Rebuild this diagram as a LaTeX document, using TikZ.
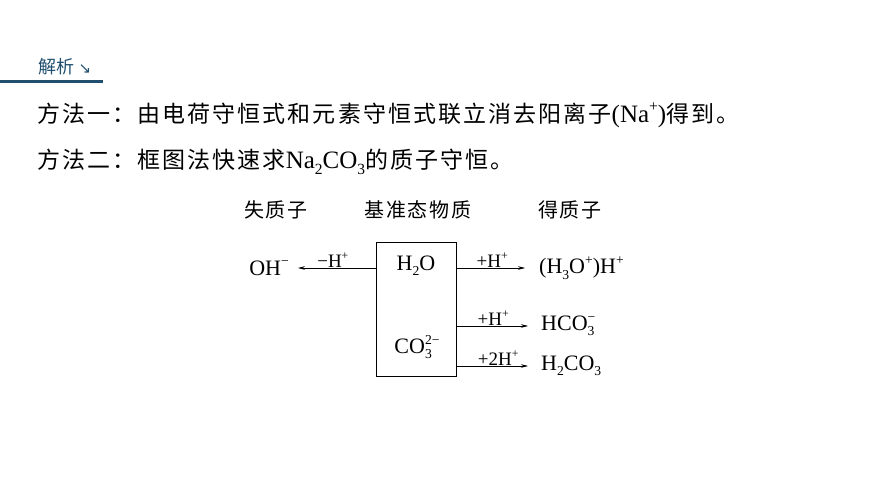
\documentclass[tikz,border=0pt]{standalone}
\usepackage{fontspec}
\setmainfont{Liberation Serif}
\newfontfamily\cjk[LetterSpace=9]{Noto Sans CJK SC}
\newfontfamily\headcjk{Noto Sans CJK SC}
\newfontfamily\symfont{DejaVu Sans}
\usetikzlibrary{arrows.meta,positioning}
\definecolor{headblue}{RGB}{31,78,110}
\makeatletter
\newcommand\chsize{\fontsize{\strip@pt\dimexpr\f@size pt*62/100\relax}{0}\selectfont}
\makeatother
\newcommand\chsup[1]{\raisebox{0.42em}{\chsize #1}}
\newcommand\chsub[1]{\raisebox{-0.24em}{\chsize #1}}
\newcommand\chsubsup[2]{\rlap{\chsub{#1}}\chsup{#2}}

\begin{document}
\begin{tikzpicture}[x=1pt,y=-1pt]
	\tikzstyle{Line}	= [anchor=west, inner sep=0pt, font=\fontsize{25}{28}\selectfont]
	\tikzstyle{Head}	= [inner sep=0pt, font=\fontsize{20}{24}\selectfont\cjk]
	\tikzstyle{Formula}	= [inner sep=1pt, font=\fontsize{22}{25}\selectfont]
	\tikzstyle{Step}	= [inner sep=1pt, font=\fontsize{19}{22}\selectfont]
	\tikzstyle{Move}	= [-{Stealth[length=7pt,width=3.5pt]}, line width=0.6pt]

	\fill[white] (0,0) rectangle (870,489);
	\useasboundingbox (0,0) rectangle (870,489);

	% heading
	\node (jiexi) at (38,67) [anchor=west, inner sep=0pt, text=headblue, font=\fontsize{18}{20}\selectfont] {{\headcjk 解析}\ {\symfont\fontsize{15}{18}\selectfont ↘}};
	\draw [headblue, line width=3pt] (0,82) -- (103,82);

	% text lines
	\node (l1) at (37,115) [Line] {{\cjk\fontsize{23}{26}\selectfont 方法一：由电荷守恒式和元素守恒式联立消去阳离子}(Na\chsup{+}){\cjk\fontsize{23}{26}\selectfont 得到。}};
	\node (l2) at (37,162) [Line] {{\cjk\fontsize{23}{26}\selectfont 方法二：框图法快速求}Na\chsub{2}CO\chsub{3}{\cjk\fontsize{23}{26}\selectfont 的质子守恒。}};

	% column heads
	\node (lose) at (276,210) [Head] {失质子};
	\node (base) at (418,210) [Head] {基准态物质};
	\node (gain) at (570,210) [Head] {得质子};

	% box with reference species
	\node (box) at (416,309) [draw, line width=0.7pt, minimum width=80pt, minimum height=134pt] {};
	\node (h2o) at (416,266) [Formula] {H\chsub{2}O};
	\node (co3) at (417,347) [Formula] {CO\chsubsup{3}{2−}};

	% products
	\node (oh)   at (290,268) [Formula, anchor=east] {OH\chsup{−}};
	\node (h3o)  at (538,268) [Formula, anchor=west] {(H\chsub{3}O\chsup{+})H\chsup{+}};
	\node (hco3) at (540,326) [Formula, anchor=west] {HCO\chsubsup{3}{−}};
	\node (h2co3) at (540,366) [Formula, anchor=west] {H\chsub{2}CO\chsub{3}};

	\draw [Move, shorten >=8pt] (box.west |- oh.east) -- (oh.east) node [Step, midway, above, yshift=-1pt] {−H\chsup{+}};
	\draw [Move, shorten >=13pt] (box.east |- h3o.west) -- (h3o.west) node [Step, midway, above, xshift=-5pt, yshift=-1pt] {+H\chsup{+}};
	\draw [Move, shorten >=12pt] (box.east |- hco3.west) -- (hco3.west) node [Step, midway, above, xshift=-5pt, yshift=-1pt] {+H\chsup{+}};
	\draw [Move, shorten >=12pt] (box.east |- h2co3.west) -- (h2co3.west) node [Step, midway, above, yshift=-1pt] {+2H\chsup{+}};
\end{tikzpicture}
\end{document}
